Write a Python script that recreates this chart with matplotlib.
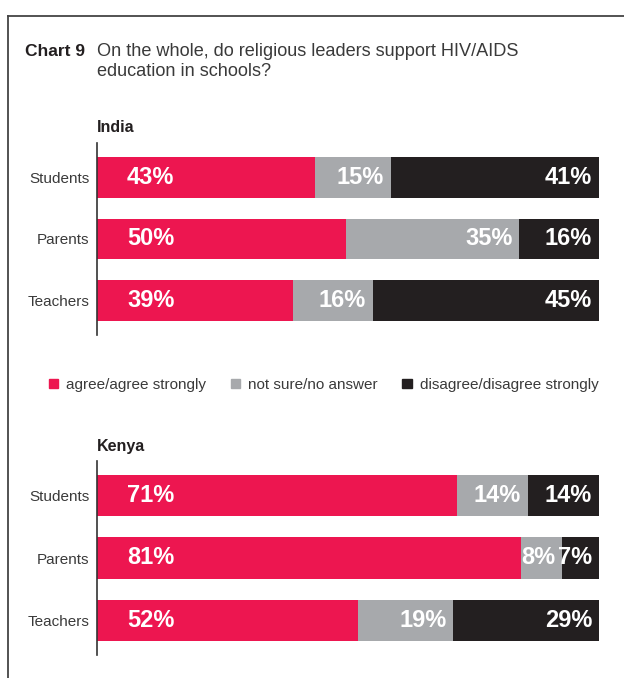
# Chart 9 - religious leaders & HIV/AIDS education, India vs Kenya
import matplotlib.pyplot as plt
from matplotlib.patches import Patch
from matplotlib.lines import Line2D

plt.rcParams['font.family'] = ['Liberation Sans', 'DejaVu Sans']

groups = ["Students", "Parents", "Teachers"]
india_agree = [43, 50, 39]
india_unsure = [15, 35, 16]
india_disagree = [41, 16, 45]
kenya_agree = [71, 81, 52]
kenya_unsure = [14, 8, 19]
kenya_disagree = [14, 7, 29]
legend_labels = ["agree/agree strongly", "not sure/no answer", "disagree/disagree strongly"]

RED, GREY, BLACK = "#ED1650", "#A7A9AC", "#231F20"
TXT = "#3a3a3a"

W, H = 624, 678
fig = plt.figure(figsize=(W / 100, H / 100), dpi=100)


def px_axes(x0, y0, x1, y1):
    # pixel box (top-left origin) -> axes
    return fig.add_axes([x0 / W, 1 - y1 / H, (x1 - x0) / W, (y1 - y0) / H])


def draw_panel(ax, agree, unsure, disagree):
    for i, g in enumerate(groups):
        tot = agree[i] + unsure[i] + disagree[i]
        a = agree[i] / tot * 100
        u = unsure[i] / tot * 100
        d = disagree[i] / tot * 100
        ax.barh(i, a, left=0, height=0.66, color=RED)
        ax.barh(i, u, left=a, height=0.66, color=GREY)
        ax.barh(i, d, left=a + u, height=0.66, color=BLACK)
        kw = dict(textcoords="offset pixels", va="center", color="white",
                  fontsize=17, fontweight="bold")
        ax.annotate(f"{agree[i]}%", (0, i), xytext=(30, 0), ha="left", **kw)
        ax.annotate(f"{unsure[i]}%", (a + u, i), xytext=(-7, 0), ha="right", **kw)
        ax.annotate(f"{disagree[i]}%", (100, i), xytext=(-7, 0), ha="right", **kw)
    ax.set_xlim(0, 100)
    ax.set_ylim(2.56, -0.56)
    ax.set_yticks(range(len(groups)))
    ax.set_yticklabels(groups, fontsize=11, color=TXT)
    ax.tick_params(axis="y", length=0, pad=5.5)
    ax.set_xticks([])
    for s in ["top", "right", "bottom"]:
        ax.spines[s].set_visible(False)
    ax.spines["left"].set_color("#333333")
    ax.spines["left"].set_linewidth(1.2)


ax1 = px_axes(97, 143, 599, 335)
draw_panel(ax1, india_agree, india_unsure, india_disagree)
ax2 = px_axes(97, 461, 599, 655)
draw_panel(ax2, kenya_agree, kenya_unsure, kenya_disagree)

# frame (top + left edges)
fig.add_artist(Line2D([8 / W, 1], [1 - 16 / H, 1 - 16 / H], color="#444444", lw=1.3))
fig.add_artist(Line2D([8 / W, 8 / W], [1 - 16 / H, 0], color="#444444", lw=1.3))

fig.text(25 / W, 1 - 52 / H, "Chart 9", fontsize=12.5, fontweight="bold", va="center", color="#231F20")
fig.text(97 / W, 1 - 52 / H, "On the whole, do religious leaders support HIV/AIDS",
         fontsize=13.1, va="center", color=TXT)
fig.text(97 / W, 1 - 72 / H, "education in schools?", fontsize=13.1, va="center", color=TXT)
fig.text(97 / W, 1 - 128 / H, "India", fontsize=11.5, fontweight="bold", va="center", color="#231F20")
fig.text(97 / W, 1 - 446 / H, "Kenya", fontsize=11.5, fontweight="bold", va="center", color="#231F20")

handles = [Patch(color=c) for c in (RED, GREY, BLACK)]
fig.legend(handles, legend_labels, ncol=3, loc="center left",
           bbox_to_anchor=(35 / W, 1 - 385 / H), frameon=False, fontsize=11,
           handlelength=0.6, handleheight=0.6, handletextpad=0.55,
           columnspacing=1.6, labelcolor=TXT)

fig.savefig("out.png", dpi=100)
